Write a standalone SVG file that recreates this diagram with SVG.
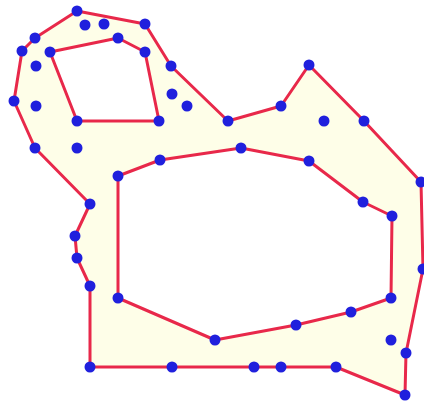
<svg xmlns="http://www.w3.org/2000/svg" width="424" height="402" viewBox="0 0 424 402">
<style>
.poly{fill:#fefee8;fill-rule:evenodd;stroke:#e8284a;stroke-width:3;stroke-linejoin:round}
.pt{fill:#2020dd}
</style>
<rect width="424" height="402" fill="#ffffff"/>
<path class="poly" d="M77,11 L145,24 L171,66 L228,121 L281,106 L309,65 L364,121 L421,182 L423,269 L406,353 L405,395 L336,367 L281,367 L254,367 L172,367 L90,367 L90,286 L77,258 L75,236 L90,204 L35,148 L14,101 L22,51 L35,38 Z
M50,52 L118,38 L145,52 L159,121 L77,121 Z
M118,176 L160,160 L241,148 L309,161 L363,202 L392,216 L391,298 L351,312 L296,325 L215,340 L118,298 Z"/>
<g id="points">
<circle class="pt" cx="77" cy="11" r="5.5"/>
<circle class="pt" cx="145" cy="24" r="5.5"/>
<circle class="pt" cx="171" cy="66" r="5.5"/>
<circle class="pt" cx="228" cy="121" r="5.5"/>
<circle class="pt" cx="281" cy="106" r="5.5"/>
<circle class="pt" cx="309" cy="65" r="5.5"/>
<circle class="pt" cx="364" cy="121" r="5.5"/>
<circle class="pt" cx="421" cy="182" r="5.5"/>
<circle class="pt" cx="423" cy="269" r="5.5"/>
<circle class="pt" cx="406" cy="353" r="5.5"/>
<circle class="pt" cx="405" cy="395" r="5.5"/>
<circle class="pt" cx="336" cy="367" r="5.5"/>
<circle class="pt" cx="281" cy="367" r="5.5"/>
<circle class="pt" cx="254" cy="367" r="5.5"/>
<circle class="pt" cx="172" cy="367" r="5.5"/>
<circle class="pt" cx="90" cy="367" r="5.5"/>
<circle class="pt" cx="90" cy="286" r="5.5"/>
<circle class="pt" cx="77" cy="258" r="5.5"/>
<circle class="pt" cx="75" cy="236" r="5.5"/>
<circle class="pt" cx="90" cy="204" r="5.5"/>
<circle class="pt" cx="35" cy="148" r="5.5"/>
<circle class="pt" cx="14" cy="101" r="5.5"/>
<circle class="pt" cx="22" cy="51" r="5.5"/>
<circle class="pt" cx="35" cy="38" r="5.5"/>
<circle class="pt" cx="50" cy="52" r="5.5"/>
<circle class="pt" cx="118" cy="38" r="5.5"/>
<circle class="pt" cx="145" cy="52" r="5.5"/>
<circle class="pt" cx="159" cy="121" r="5.5"/>
<circle class="pt" cx="77" cy="121" r="5.5"/>
<circle class="pt" cx="118" cy="176" r="5.5"/>
<circle class="pt" cx="160" cy="160" r="5.5"/>
<circle class="pt" cx="241" cy="148" r="5.5"/>
<circle class="pt" cx="309" cy="161" r="5.5"/>
<circle class="pt" cx="363" cy="202" r="5.5"/>
<circle class="pt" cx="392" cy="216" r="5.5"/>
<circle class="pt" cx="391" cy="298" r="5.5"/>
<circle class="pt" cx="351" cy="312" r="5.5"/>
<circle class="pt" cx="296" cy="325" r="5.5"/>
<circle class="pt" cx="215" cy="340" r="5.5"/>
<circle class="pt" cx="118" cy="298" r="5.5"/>
<circle class="pt" cx="85" cy="25" r="5.5"/>
<circle class="pt" cx="104" cy="24" r="5.5"/>
<circle class="pt" cx="36" cy="66" r="5.5"/>
<circle class="pt" cx="36" cy="106" r="5.5"/>
<circle class="pt" cx="172" cy="94" r="5.5"/>
<circle class="pt" cx="187" cy="106" r="5.5"/>
<circle class="pt" cx="77" cy="148" r="5.5"/>
<circle class="pt" cx="324" cy="121" r="5.5"/>
<circle class="pt" cx="391" cy="340" r="5.5"/>
</g>
</svg>
